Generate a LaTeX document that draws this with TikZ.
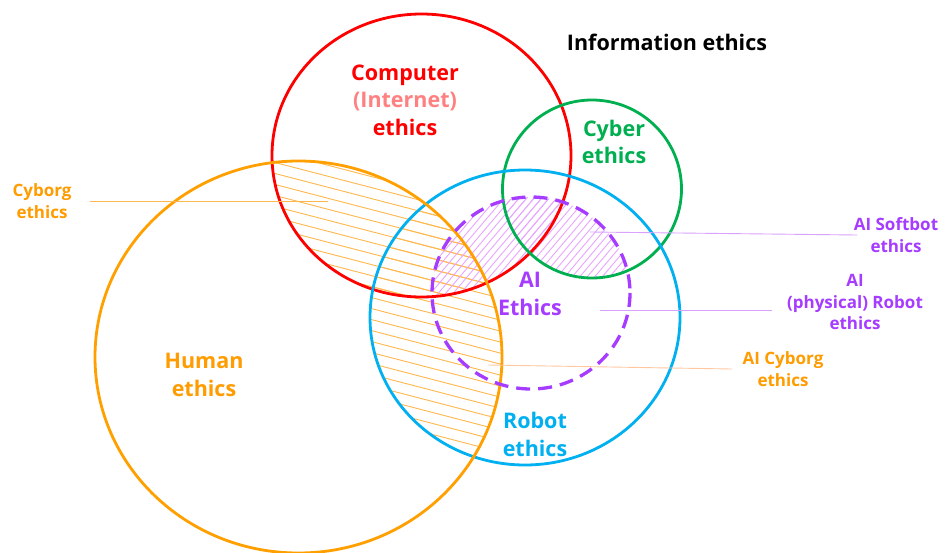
\documentclass[tikz,border=0pt]{standalone}
\usepackage{fontspec}
\setmainfont{Open Sans}
\definecolor{cred}{HTML}{FF0000}
\definecolor{cpink}{HTML}{FF8080}
\definecolor{cgreen}{HTML}{00B050}
\definecolor{cblue}{HTML}{00B0F0}
\definecolor{corange}{HTML}{FFA000}
\definecolor{ctxtorange}{HTML}{FF9C00}
\definecolor{cpurple}{HTML}{A63CFF}
\definecolor{chatchor}{HTML}{FFB84D}
\definecolor{chatchpu}{HTML}{E9A6FF}
\definecolor{cleadpu}{HTML}{D9A2FF}
\definecolor{cleador}{HTML}{FFC8A0}
\begin{document}
\begin{tikzpicture}[x=1pt,y=-1pt,
  ring/.style={line width=2.8pt},
  biglabel/.style={font=\bfseries\fontsize{21.5}{27.5}\selectfont,align=center,inner sep=0pt},
  smalllabel/.style={font=\bfseries\fontsize{17}{21.5}\selectfont,align=center,inner sep=0pt},
  leader/.style={line width=0.9pt},
  hatchline/.style={line width=0.9pt}]
\useasboundingbox (0,0) rectangle (945,552);
\fill[white] (0,0) rectangle (945,552);
% orange hatching: human ∩ computer, human ∩ robot
\begin{scope}
  \clip (298.5,357) ellipse [x radius=203.5, y radius=196];
  \clip (421.5,155.5) ellipse [x radius=149.5, y radius=141.5];
  \foreach \c in {0,11,...,420} \draw[hatchline,chatchor] (200,\c) -- (600,\c+104);
\end{scope}
\begin{scope}
  \clip (298.5,357) ellipse [x radius=203.5, y radius=196];
  \clip (525,317.5) ellipse [x radius=155, y radius=147.5];
  \foreach \c in {0,11,...,420} \draw[hatchline,chatchor] (200,\c) -- (600,\c+104);
\end{scope}
% magenta hatching: AI ∩ computer, AI ∩ cyber
\begin{scope}
  \clip (531,293) ellipse [x radius=99, y radius=96];
  \clip (421.5,155.5) ellipse [x radius=149.5, y radius=141.5];
  \foreach \a in {250,257.5,...,560} \draw[hatchline,chatchpu] (\a,400) -- (\a+340,0);
\end{scope}
\begin{scope}
  \clip (531,293) ellipse [x radius=99, y radius=96];
  \clip (592,189) ellipse [x radius=89.5, y radius=89];
  \foreach \a in {250,257.5,...,560} \draw[hatchline,chatchpu] (\a,400) -- (\a+340,0);
\end{scope}
% circles
\draw[ring,cred] (421.5,155.5) ellipse [x radius=149.5, y radius=141.5];
\draw[ring,cgreen] (592,189) ellipse [x radius=89.5, y radius=89];
\draw[ring,cblue] (525,317.5) ellipse [x radius=155, y radius=147.5];
\draw[ring,corange] (298.5,357) ellipse [x radius=203.5, y radius=196];
\draw[line width=3.3pt,cpurple,dash pattern=on 14pt off 8pt] (531,293) ellipse [x radius=99, y radius=96];
% labels
\node[font=\bfseries\fontsize{21.5}{26}\selectfont,inner sep=0pt] (info) at (667,42) {Information ethics};
\node[biglabel,cred] (comp) at (405,100) {Computer\\\textcolor{cpink}{(Internet)}\\ethics};
\node[biglabel,cgreen] (cyber) at (614,142) {Cyber\\ethics};
\node[biglabel,cpurple] (ai) at (530,294) {AI\\Ethics};
\node[biglabel,ctxtorange] (human) at (204,375) {Human\\ethics};
\node[biglabel,cblue] (robot) at (535,434.5) {Robot\\ethics};
\node[smalllabel,ctxtorange] (cyborg) at (42,201) {Cyborg\\ethics};
\node[smalllabel,cpurple] (softbot) at (896,235) {AI Softbot\\ethics};
\node[smalllabel,cpurple] (physrobot) at (855,302) {AI\\(physical)\ Robot\\ethics};
\node[smalllabel,ctxtorange] (aicyborg) at (783,369) {AI Cyborg\\ethics};
% leader lines
\coordinate (cyborgA) at (90,201);
\coordinate (cyborgB) at (328,201);
\coordinate (softA) at (857,235);
\coordinate (softB) at (590,232);
\coordinate (physA) at (772,310);
\coordinate (physB) at (600,310);
\coordinate (aicA) at (732,369);
\coordinate (aicB) at (488,365);
\draw[leader,chatchor] (cyborgA) -- (cyborgB);
\draw[leader,cleadpu] (softA) -- (softB);
\draw[leader,cleadpu] (physA) -- (physB);
\draw[leader,cleador] (aicA) -- (aicB);
\end{tikzpicture}
\end{document}
